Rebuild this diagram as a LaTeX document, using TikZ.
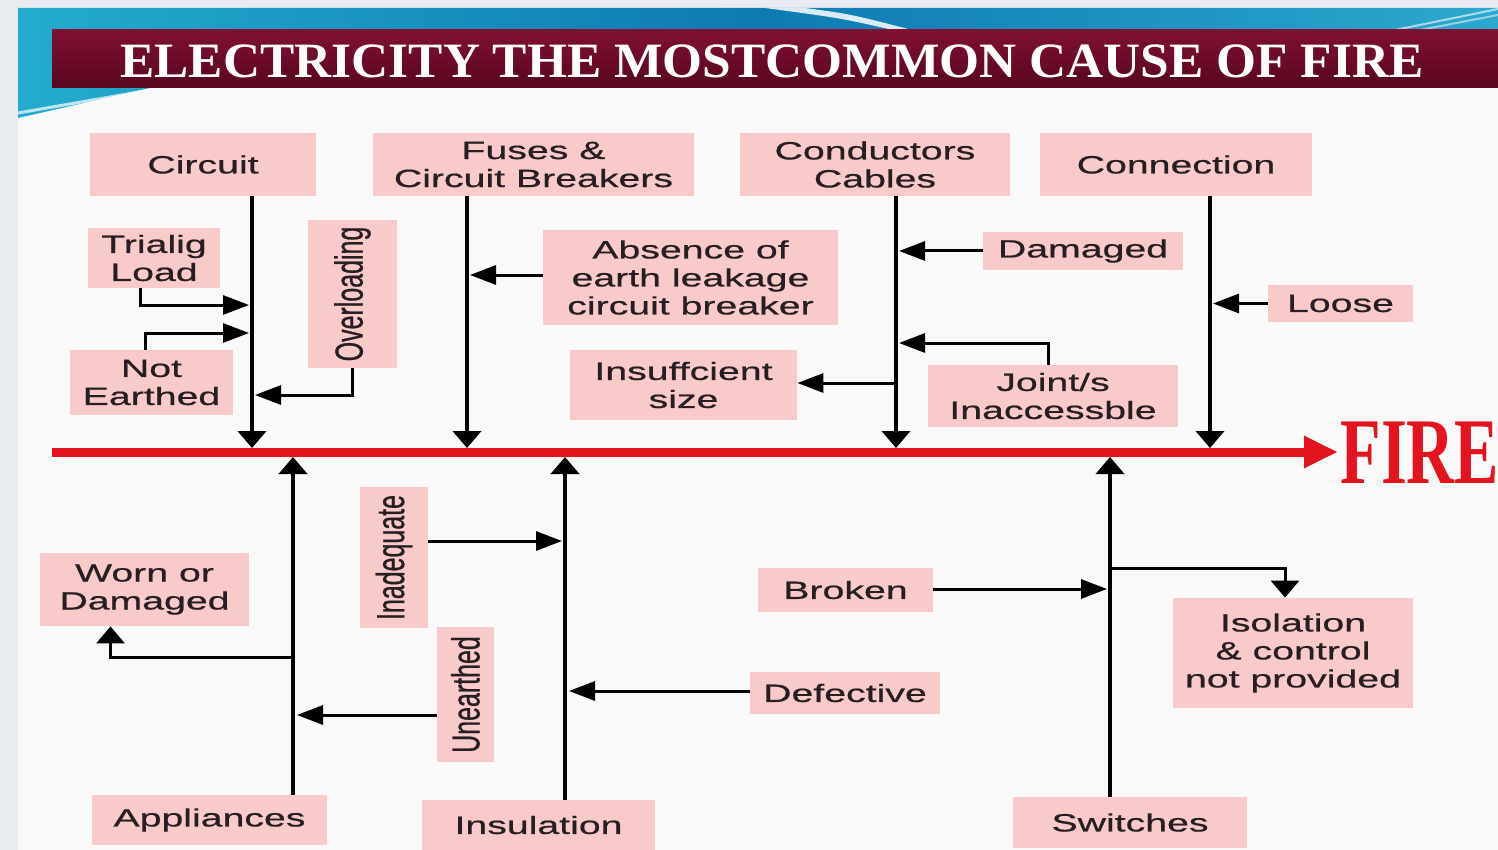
\documentclass[tikz,border=0pt]{standalone}
\usepackage{fontspec}
\setmainfont{Liberation Sans}
\newfontfamily\boxfont[FakeStretch=1.57,FakeBold=0.6]{Liberation Sans}
\newfontfamily\rotfont[FakeStretch=0.637,FakeBold=0.6]{Liberation Sans}
\newfontfamily\titlefont[FakeStretch=1.04]{Liberation Serif}
\usetikzlibrary{arrows.meta,calc}
\definecolor{outergray}{RGB}{232,236,241}
\definecolor{slidebg}{RGB}{249,249,250}
\definecolor{boxpink}{RGB}{249,202,202}
\definecolor{txt}{RGB}{38,30,34}
\definecolor{firered}{RGB}{228,20,30}
\definecolor{bandL}{RGB}{35,172,205}
\definecolor{bandM}{RGB}{14,122,178}
\definecolor{bandR}{RGB}{45,168,206}
\definecolor{barT}{RGB}{128,16,50}
\definecolor{barB}{RGB}{88,6,30}
\newcommand\pbox[6]{\node[cat, minimum width={(#4-#2)*0.5pt}, minimum height={(#5-#3)*0.5pt}] (#1) at ({(#2+#4)/2},{(#3+#5)/2}) {#6};}
\begin{document}
\begin{tikzpicture}[x=0.5pt,y=-0.5pt,
  cat/.style={fill=boxpink, draw=none, inner sep=0pt, text=txt, align=center,
    font=\boxfont\fontsize{12.5}{14}\selectfont},
  rot/.style={rotate=90, inner sep=0pt, text=txt, font=\rotfont\fontsize{19.6}{20}\selectfont},
  ln/.style={draw=black, line width=1.5pt},
  harr/.style={ln, -{Triangle[length=13pt,width=9.5pt]}},
  varr/.style={ln, -{Triangle[length=8.5pt,width=14pt]}},
  spine/.style={draw=black, line width=2pt, -{Triangle[length=8.5pt,width=14pt]}}]
\useasboundingbox (0,0) rectangle (1498,850);
% background
\fill[outergray] (0,0) rectangle (1498,850);
\fill[slidebg] (18,8) rectangle (1498,850);
\shade[left color=bandL, right color=bandR, middle color=bandM]
  (18,8) -- (1498,8) -- (1498,88) -- (150,88) -- (18,118) -- cycle;
\fill[white, opacity=0.85] (765,8) -- (805,8) .. controls (850,14) .. (912,30) -- (893,30) .. controls (840,18) .. (765,8) -- cycle;
\draw[white, opacity=0.6, line width=1pt] (1395,30) -- (1498,9);
\draw[white, opacity=0.5, line width=1pt] (1420,30) -- (1498,15);
\draw[white, opacity=0.7, line width=1.5pt] (18,113) -- (150,90);
% title bar
\shade[top color=barT, bottom color=barB] (52,30) rectangle (1498,88);
\node[text=white, inner sep=0pt, font=\titlefont\bfseries\fontsize{24.7}{25}\selectfont] (title) at (772,61) {ELECTRICITY THE MOSTCOMMON CAUSE OF FIRE};
% red main line
\coordinate (rl0) at (52,452);
\coordinate (rl1) at (1338,452);
\coordinate (redtop) at (0,448);
\coordinate (redbot) at (0,457);
\draw[firered, line width=4.5pt, -{Triangle[length=17pt,width=15pt]}] (rl0) -- (rl1);
\node[anchor=west, inner sep=0pt, text=firered, font=\titlefont\bfseries\fontsize{47}{47}\selectfont] (fire) at (1340,453) {\scalebox{0.68}[1]{FIRE}};
% category boxes
\pbox{circuit}{90}{133}{316}{196}{Circuit}
\pbox{fuses}{373}{133}{694}{196}{Fuses \&\\Circuit Breakers}
\pbox{cond}{740}{133}{1010}{196}{Conductors\\Cables}
\pbox{conn}{1040}{133}{1312}{196}{Connection}
\pbox{appl}{92}{795}{327}{845}{Appliances}
\pbox{insul}{422}{800}{655}{850}{Insulation}
\pbox{switch}{1013}{797}{1247}{848}{Switches}
% cause boxes
\pbox{trialig}{88}{228}{220}{288}{Trialig\\Load}
\pbox{notearth}{70}{350}{233}{415}{Not\\Earthed}
\pbox{over}{308}{220}{397}{368}{}
\node[rot] (overT) at (over.center) {Overloading};
\pbox{absence}{543}{230}{838}{325}{Absence of\\earth leakage\\circuit breaker}
\pbox{insuff}{570}{350}{797}{420}{Insuffcient\\size}
\pbox{damaged}{983}{232}{1183}{270}{Damaged}
\pbox{joint}{928}{365}{1178}{427}{Joint/s\\Inaccessble}
\pbox{loose}{1268}{285}{1413}{322}{Loose}
\pbox{worn}{40}{553}{249}{626}{Worn or\\Damaged}
\pbox{inadeq}{360}{487}{428}{628}{}
\node[rot] (inadeqT) at (inadeq.center) {Inadequate};
\pbox{unearth}{437}{627}{494}{762}{}
\node[rot] (unearthT) at (unearth.center) {Unearthed};
\pbox{defect}{750}{672}{940}{714}{Defective}
\pbox{broken}{758}{568}{933}{612}{Broken}
\pbox{isol}{1173}{598}{1413}{708}{Isolation\\\& control\\not provided}
% spine x positions
\coordinate (xC) at (252,0);
\coordinate (xF) at (467,0);
\coordinate (xK) at (896,0);
\coordinate (xN) at (1210,0);
\coordinate (xA) at (293,0);
\coordinate (xI) at (565,0);
\coordinate (xS) at (1110,0);
\draw[spine] (xC |- circuit.south) -- (xC |- redtop);
\draw[spine] (xF |- fuses.south) -- (xF |- redtop);
\draw[spine] (xK |- cond.south) -- (xK |- redtop);
\draw[spine] (xN |- conn.south) -- (xN |- redtop);
\draw[spine] (xA |- appl.north) -- (xA |- redbot);
\draw[spine] (xI |- insul.north) -- (xI |- redbot);
\draw[spine] (xS |- switch.north) -- (xS |- redbot);
% junctions on spines
\coordinate (jTL) at (249,305);
\coordinate (jNE) at (249,333);
\coordinate (jOV) at (255,395);
\coordinate (jAB) at (470,275);
\coordinate (jDM) at (899,251);
\coordinate (jJT) at (899,343);
\coordinate (jIN) at (896,383);
\coordinate (jLO) at (1213,303.5);
\coordinate (jWO) at (293,657);
\coordinate (jUN) at (297,715);
\coordinate (jIA) at (562,541);
\coordinate (jDF) at (569,691);
\coordinate (jBR) at (1107,589);
\coordinate (jIS) at (1110,568);
% cause connectors
\draw[harr] ([xshift=-7pt]trialig.south) |- (jTL);
\draw[harr] ([xshift=-3pt]notearth.north) |- (jNE);
\draw[harr] (over.south) |- (jOV);
\draw[harr] (absence.west |- jAB) -- (jAB);
\draw[harr] (damaged.west) -- (jDM);
\draw[harr] ([xshift=-2.5pt]joint.north) |- (jJT);
\draw[harr] (jIN) -- (insuff.east |- jIN);
\draw[harr] (loose.west) -- (jLO);
\draw[varr] (jWO) -| ([xshift=-17pt]worn.south);
\draw[harr] (unearth.west |- jUN) -- (jUN);
\draw[harr] (inadeq.east |- jIA) -- (jIA);
\draw[harr] (defect.west |- jDF) -- (jDF);
\draw[harr] (broken.east |- jBR) -- (jBR);
\draw[varr] (jIS) -| ([xshift=-4pt]isol.north);
\end{tikzpicture}
\end{document}
